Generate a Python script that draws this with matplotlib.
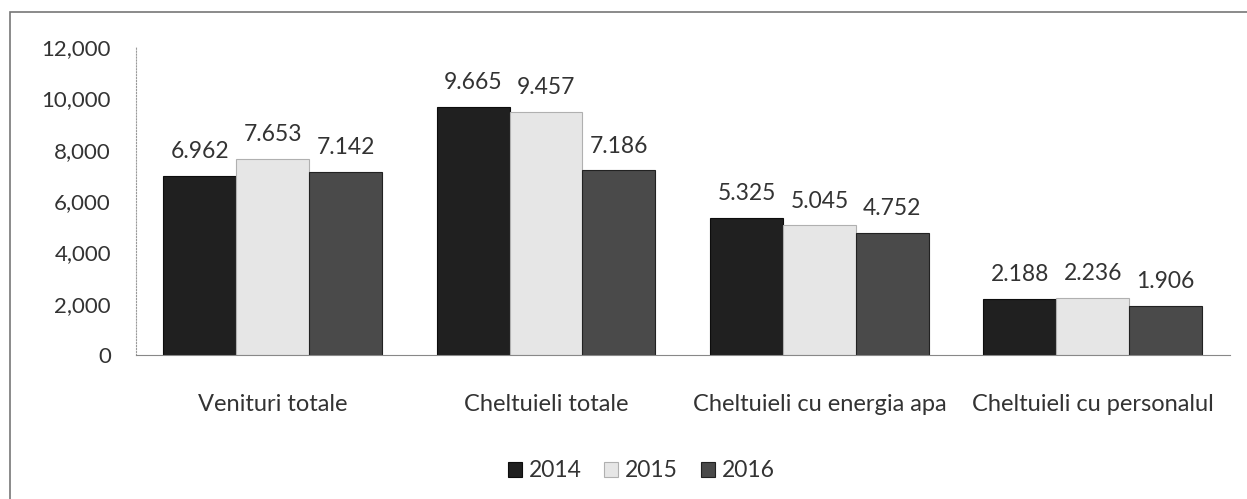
import numpy as np
import matplotlib.pyplot as plt
from matplotlib.patches import Rectangle

categories = ['Venituri totale', 'Cheltuieli totale',
              'Cheltuieli cu energia apa', 'Cheltuieli cu personalul']
years = ['2014', '2015', '2016']
v2014 = [6962, 9665, 5325, 2188]
v2015 = [7653, 9457, 5045, 2236]
v2016 = [7142, 7186, 4752, 1906]
yticks = [0, 2000, 4000, 6000, 8000, 10000, 12000]

plt.rcParams['font.family'] = ['Lato', 'DejaVu Sans']

fig = plt.figure(figsize=(12.47, 4.99), dpi=100)
ax = fig.add_axes([0.109, 0.2886, 0.877, 0.6174])

x = np.arange(len(categories))
w = 0.8 / 3
colors = ['#202020', '#e6e6e6', '#4a4a4a']
edges = ['#0d0d0d', '#b0b0b0', '#222222']
for i, (vals, yr) in enumerate(zip([v2014, v2015, v2016], years)):
    bars = ax.bar(x + (i - 1) * w, vals, w, color=colors[i],
                  edgecolor=edges[i], linewidth=0.8, label=yr)
    for b, v in zip(bars, vals):
        ax.annotate(f'{v/1000:.3f}', (b.get_x() + b.get_width() / 2, v),
                    xytext=(0, 10), textcoords='offset points',
                    ha='center', va='bottom', fontsize=16.5, color='#333333')

ax.set_xlim(-0.5, 3.5)
ax.set_ylim(0, 12000)
ax.set_yticks(yticks)
ax.set_yticklabels([f'{t:,}' for t in yticks])
ax.set_xticks(x)
ax.set_xticklabels(categories)
ax.tick_params(axis='y', length=0, pad=18, labelsize=16, labelcolor='#333333')
ax.tick_params(axis='x', length=0, pad=28, labelsize=17, labelcolor='#333333')
for s in ['top', 'right']:
    ax.spines[s].set_visible(False)
ax.spines['left'].set_color('#9a9a9a')
ax.spines['left'].set_linestyle(':')
ax.spines['bottom'].set_color('#888888')

ax.legend(loc='upper center', bbox_to_anchor=(0.462, -0.275), ncol=3,
          frameon=False, fontsize=16.5, handlelength=0.6, handleheight=0.6,
          columnspacing=1.0, handletextpad=0.3, labelcolor='#333333')

fig.add_artist(Rectangle((0.008, -0.01), 1.0, 0.986, transform=fig.transFigure,
                         fill=False, edgecolor='#777777', linewidth=1.2))

fig.savefig('out.png', dpi=100)
